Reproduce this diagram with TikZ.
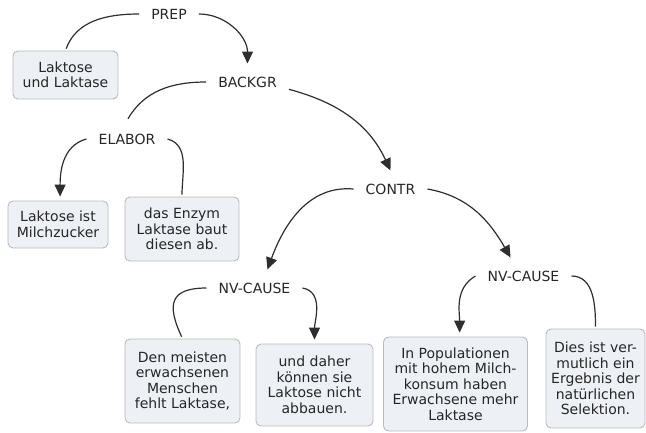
\documentclass[tikz,border=0pt]{standalone}
\usepackage{fontspec}
\setmainfont{DejaVu Sans}
\usepackage{tikz}
\usetikzlibrary{arrows.meta}
\usetikzlibrary{positioning}
\definecolor{boxfill}{HTML}{EDF0F5}
\definecolor{boxline}{HTML}{B7BBC1}
\definecolor{linegray}{HTML}{2E2E2E}
\definecolor{textgray}{HTML}{262626}
\tikzstyle{every node}+=[inner sep=0pt]
\tikzstyle{block} = [rectangle, draw=boxline, fill=boxfill, line width=0.9pt, rounded corners=5pt]
\tikzstyle{rel} = [inner xsep=12pt, inner ysep=13pt]
\tikzstyle{line} = [draw=linegray, line width=1.2pt, shorten >=2pt]
\tikzstyle{arrow} = [draw=linegray, line width=1.2pt, -{Triangle[length=12pt, width=11pt]}]
\tikzstyle{arrowbox} = [arrow, shorten >=4pt]

\begin{document}
\begin{tikzpicture}[node distance=60pt, every text node part/.style={align=center}, font=\fontsize{14}{15.5}\selectfont, text=textgray]
  \useasboundingbox (-169pt,14pt) rectangle (477pt,-418pt);
  % Place nodes
  \node [rel] (prep) {PREP};
  \node [block, node distance=61pt, below of=prep, xshift=-103.5pt, minimum width=105pt, minimum height=48pt] (laktase) {Laktose\\und Laktase};
  \node [rel, node distance=68pt, below of=prep, xshift=78.5pt] (backgr) {BACKGR};
  \node [rel, node distance=57pt, below of=backgr, xshift=-120.5pt] (elabor) {ELABOR};
  \node [block, node distance=85.5pt, below of=elabor, xshift=-69pt, minimum width=100pt, minimum height=47pt] (milch) {Laktose ist\\Milchzucker};
  \node [block, node distance=90pt, below of=elabor, xshift=55pt, minimum width=114pt, minimum height=64pt] (enzym) {das Enzym\\Laktase baut\\diesen ab.};
  \node [rel, node distance=107pt, below of=backgr, xshift=143pt] (contr) {CONTR};
  \node [rel, node distance=99pt, below of=contr, xshift=-136pt] (nvl) {NV-CAUSE};
  \node [rel, node distance=87pt, below of=contr, xshift=133pt] (nvr) {NV-CAUSE};
  \node [block, node distance=93pt, below of=nvl, xshift=-72pt, minimum width=115pt, minimum height=84pt] (meisten) {Den meisten\\erwachsenen\\Menschen\\fehlt Laktase,};
  \node [block, node distance=97pt, below of=nvl, xshift=60pt, minimum width=117pt, minimum height=82pt] (daher) {und daher\\können sie\\Laktose nicht\\abbauen.};
  \node [block, node distance=108pt, below of=nvr, xshift=-68pt, minimum width=144pt, minimum height=94pt] (popul) {In Populationen\\mit hohem Milch-\\konsum haben\\Erwachsene mehr\\Laktase};
  \node [block, node distance=102.5pt, below of=nvr, xshift=72pt, minimum width=99pt, minimum height=99pt] (selekt) {Dies ist ver-\\mutlich ein\\Ergebnis der\\natürlichen\\Selektion.};
  % Draw edges
  \path [line] (prep.west) to[out=180, in=70] (laktase.north);
  \path [arrow] (prep.east) to[out=0, in=90] (backgr.north);
  \path [line] (backgr.west) to[out=180, in=60] (elabor.north);
  \path [arrow] (backgr.-10) to[out=-15, in=115] (contr.north);
  \path [arrowbox] (elabor.west) to[out=195, in=90] (milch.85);
  \path [line] (elabor.east) to[out=-15, in=90] (enzym.north);
  \path [arrow] (contr.west) to[out=175, in=70] (nvl.55);
  \path [arrow] (contr.east) to[out=-10, in=120] (nvr.125);
  \path [line] (nvl.west) to[out=180, in=115, looseness=1.7] (meisten.north);
  \path [arrowbox] (nvl.east) to[out=-10, in=90] (daher.north);
  \path [arrowbox] (nvr.west) to[out=210, in=90] (popul.85);
  \path [line] (nvr.east) to[out=0, in=90] (selekt.north);
\end{tikzpicture}
\end{document}
